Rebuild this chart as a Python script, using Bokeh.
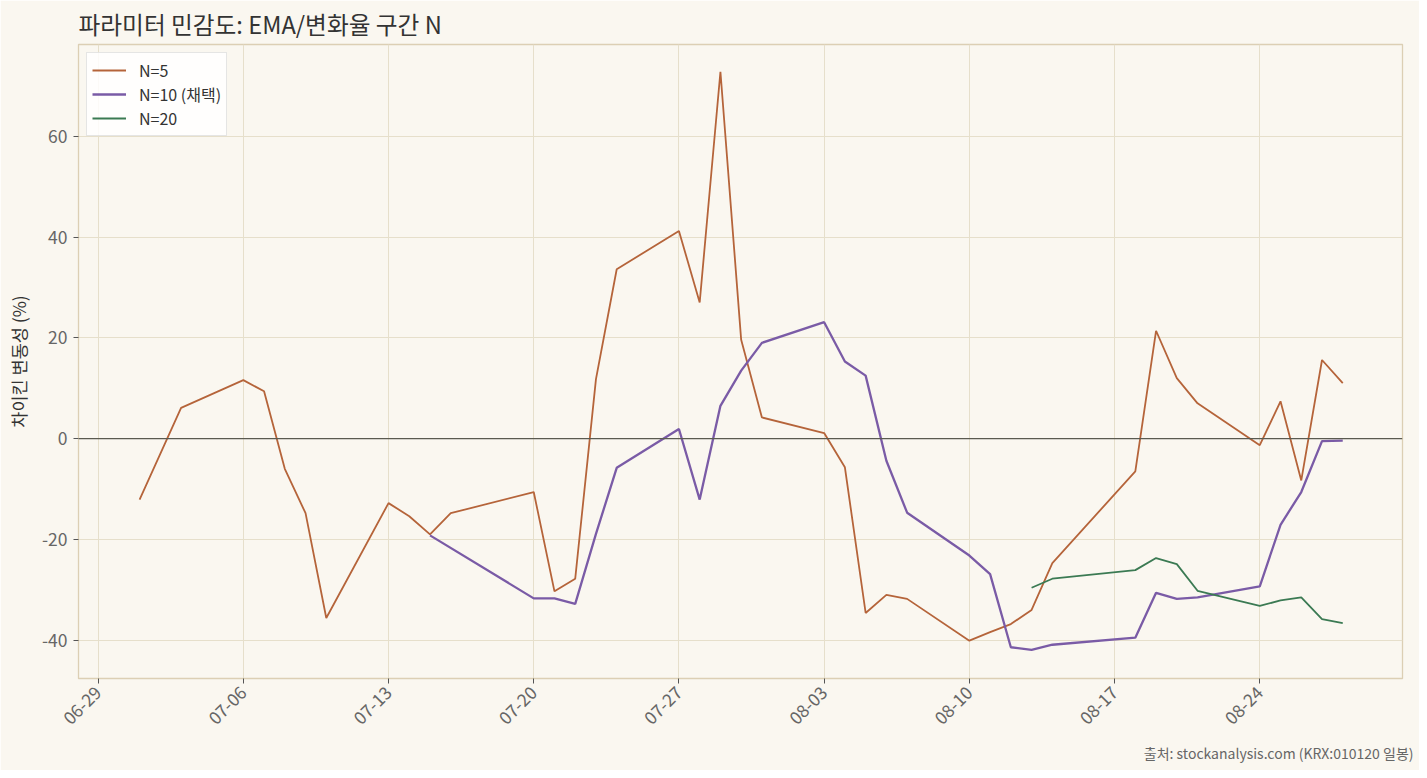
import math
from datetime import datetime, timedelta
from bokeh.plotting import figure
from bokeh.models import (Span, FixedTicker, DatetimeTickFormatter, Range1d, Legend,
                          LegendItem, Title)
from bokeh.embed import file_html
from bokeh.resources import INLINE

YEAR = 2026
title_text = "파라미터 민감도: EMA/변화율 구간 N"
y_label = "차이킨 변동성 (%)"
source_text = "출처: stockanalysis.com (KRX:010120 일봉)"

n5_dates = ["07-01", "07-03", "07-06", "07-07", "07-08", "07-09", "07-10", "07-13", "07-14",
            "07-15", "07-16", "07-20", "07-21", "07-22", "07-23", "07-24", "07-27", "07-28",
            "07-29", "07-30", "07-31", "08-03", "08-04", "08-05", "08-06", "08-07", "08-10",
            "08-11", "08-12", "08-13", "08-14", "08-18", "08-19", "08-20", "08-21", "08-24",
            "08-25", "08-26", "08-27", "08-28"]
n5_vals = [-12.1, 6.1, 11.6, 9.4, -6.0, -14.8, -35.6, -12.8, -15.4,
           -19.0, -14.8, -10.6, -30.3, -27.8, 11.8, 33.6, 41.2, 27.0,
           72.8, 19.6, 4.2, 1.1, -5.7, -34.6, -31.0, -31.8, -40.1,
           -38.4, -36.8, -34.0, -24.7, -6.5, 21.4, 12.0, 7.0, -1.3,
           7.4, -8.3, 15.6, 11.0]

n10_dates = ["07-15", "07-20", "07-21", "07-22", "07-23", "07-24", "07-27", "07-28", "07-29",
             "07-30", "07-31", "08-03", "08-04", "08-05", "08-06", "08-07", "08-10", "08-11",
             "08-12", "08-13", "08-14", "08-18", "08-19", "08-20", "08-21", "08-24", "08-25",
             "08-26", "08-27", "08-28"]
n10_vals = [-19.2, -31.7, -31.7, -32.8, -18.9, -5.8, 1.9, -12.1, 6.5,
            13.5, 19.0, 23.1, 15.3, 12.5, -4.4, -14.7, -23.2, -26.9,
            -41.4, -41.9, -40.9, -39.5, -30.6, -31.8, -31.5, -29.3, -17.1,
            -10.6, -0.5, -0.4]

n20_dates = ["08-13", "08-14", "08-18", "08-19", "08-20", "08-21", "08-24", "08-25", "08-26",
             "08-27", "08-28"]
n20_vals = [-29.6, -27.8, -26.1, -23.7, -24.9, -30.2, -33.2, -32.1, -31.5, -35.8, -36.6]

series_names = ["N=5", "N=10 (채택)", "N=20"]
series_colors = ["#b5643a", "#7a5ba6", "#3b7a53"]
series_widths = [1.8, 2.3, 1.8]

tick_dates = ["06-29", "07-06", "07-13", "07-20", "07-27", "08-03", "08-10", "08-17", "08-24"]
y_ticks = [-40, -20, 0, 20, 40, 60]


def to_dt(md):
    m, d = md.split("-")
    return datetime(YEAR, int(m), int(d))


FONT = "Noto Sans CJK KR"
BG = "#faf7f0"

x0 = to_dt("06-29") - timedelta(days=0.945)
x1 = to_dt("06-29") + timedelta(days=62.88)

p = figure(width=1419, height=770, x_axis_type="datetime", output_backend="svg",
           toolbar_location=None, background_fill_color=BG, border_fill_color=BG,
           x_range=Range1d(x0, x1), y_range=Range1d(-47.6, 78.2),
           min_border_left=78, min_border_right=17, min_border_top=44, min_border_bottom=92)

p.title.text = title_text
p.title.text_font = FONT
p.title.text_font_size = "23.7px"
p.title.text_font_style = "normal"
p.title.text_color = "#333333"
p.title.align = "left"
p.title.offset = 0
p.title.standoff = 8

src = Title(text=source_text, align="right", text_font=FONT, text_font_size="14px",
            text_font_style="normal", text_color="#666666", offset=-11, standoff=15)
p.add_layout(src, "below")

p.outline_line_color = "#dccfb4"
p.outline_line_width = 1.3

p.xgrid.grid_line_color = "#e6dfcb"
p.ygrid.grid_line_color = "#e6dfcb"
p.xgrid.grid_line_width = 1
p.ygrid.grid_line_width = 1

p.xaxis.ticker = FixedTicker(ticks=[to_dt(t).timestamp() * 1000 for t in tick_dates])
p.xaxis.formatter = DatetimeTickFormatter(days="%m-%d", months="%m-%d", hours="%m-%d",
                                          years="%m-%d", context=None)
p.xaxis.major_label_orientation = math.pi / 4
p.yaxis.ticker = FixedTicker(ticks=y_ticks)
p.yaxis.major_label_overrides = {t: str(t) for t in y_ticks}

for ax in (p.xaxis, p.yaxis):
    ax.axis_line_color = "#dccfb4"
    ax.major_tick_line_color = "#555555"
    ax.major_tick_out = 5
    ax.major_tick_in = 0
    ax.minor_tick_line_color = None
    ax.major_label_text_font = FONT
    ax.major_label_text_font_size = "17.5px"
    ax.major_label_text_color = "#666666"
    ax.major_label_standoff = 6

p.yaxis.axis_label = y_label
p.yaxis.axis_label_text_font = FONT
p.yaxis.axis_label_text_font_size = "17.5px"
p.yaxis.axis_label_text_font_style = "normal"
p.yaxis.axis_label_text_color = "#333333"
p.yaxis.axis_label_standoff = 8

p.add_layout(Span(location=0, dimension="width", line_color="#5a5a50", line_width=1.3))

items = []
for dates, vals, name, col, w in zip([n5_dates, n10_dates, n20_dates],
                                     [n5_vals, n10_vals, n20_vals],
                                     series_names, series_colors, series_widths):
    r = p.line([to_dt(d) for d in dates], vals, line_color=col, line_width=w)
    items.append(LegendItem(label=name, renderers=[r]))

legend = Legend(items=items, location="top_left", margin=8, padding=5, spacing=0,
                glyph_width=34, glyph_height=20, label_height=20, label_standoff=13,
                label_text_font=FONT, label_text_font_size="16px", label_text_color="#333333",
                background_fill_color="#ffffff", background_fill_alpha=0.85,
                border_line_color="#cccccc", border_line_width=1.2)
p.add_layout(legend)

open("out.html", "w").write(file_html(p, INLINE))
